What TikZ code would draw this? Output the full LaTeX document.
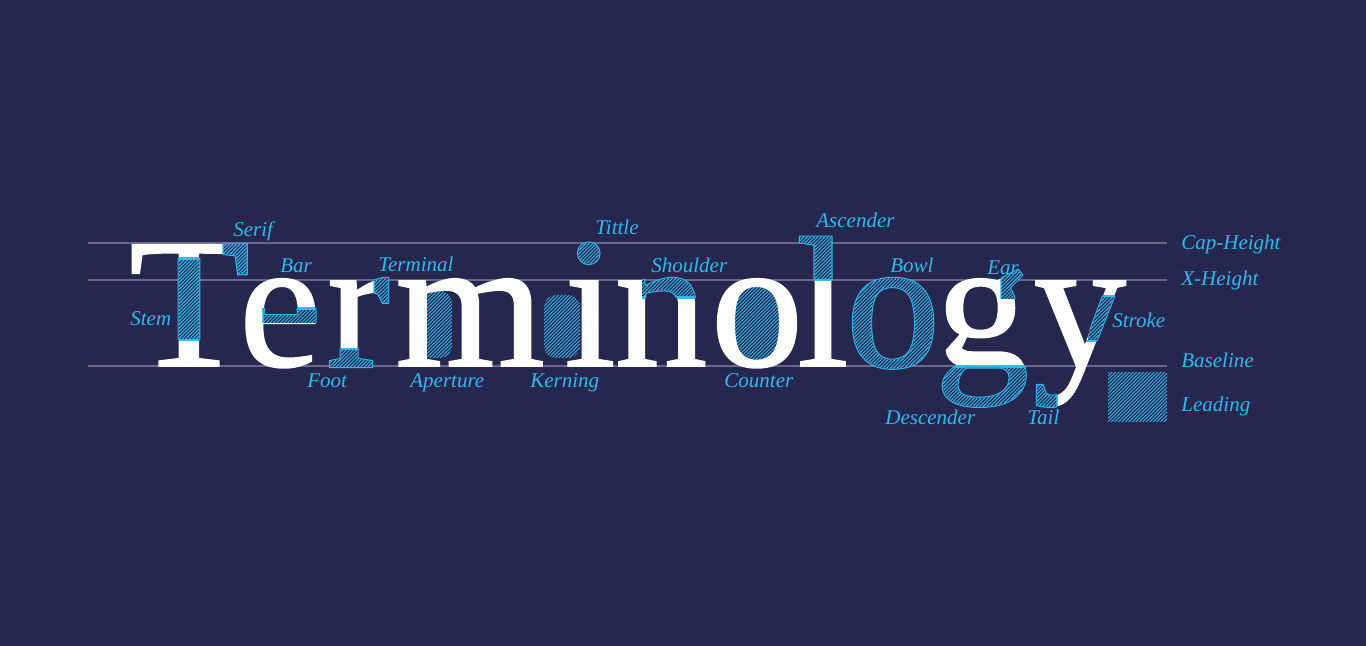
\documentclass[tikz,border=0pt]{standalone}
\usepackage{fontspec}
\setmainfont{Liberation Serif}
\newfontfamily\bigserif{Liberation Serif}[FakeBold=1.0]
\newfontfamily\bigserifB{Liberation Serif}[FakeBold=2.2]
\definecolor{bgc}{RGB}{37,39,79}
\definecolor{cy}{RGB}{48,185,236}
\definecolor{guide}{RGB}{104,104,138}
\tikzset{
  lbl/.style={anchor=base west, inner sep=0pt, text=cy, font=\fontsize{10.5}{12}\selectfont\itshape},
  letter/.style={anchor=base, inner sep=0pt, text=white, font=\fontsize{92.5}{92.5}\selectfont\bigserif},
  letterB/.style={anchor=base, inner sep=0pt, font=\fontsize{92.5}{92.5}\selectfont\bigserifB},
  guideline/.style={draw=guide, line width=1.2pt},
}
% diagonal stripes as a clip path over a box xmin ymin xmax ymax (pixel units, y down)
\newcommand\hatchclip[4]{%
  \pgfmathsetmacro\hcA{#1+#2}%
  \pgfmathsetmacro\hcB{#3+#4}%
  \pgfmathsetmacro\hcC{\hcA+3.5}%
  \clip foreach \hk in {\hcA,\hcC,...,\hcB} {({\hk-#2},#2) -- ({\hk+1.4-#2},#2) -- ({\hk+1.4-#4},#4) -- ({\hk-#4},#4) -- cycle};}
% hatched part of a glyph: name, x, glyph, region, stripe box
\newcommand\hpart[5]{%
  \begin{scope}
  \clip #4;
  \node[letterB, text=cy] (#1B) at (#2,366) {#3};
  \node[letter, text=bgc] (#1N) at (#2,366) {#3};
  \hatchclip#5
  \node[letter, text=cy] (#1H) at (#2,366) {#3};
  \end{scope}}
% cut line where a hatched part meets the white glyph
\newcommand\cutline[4]{%
  \begin{scope}
  \clip #4;
  \node[letter, text=cy] (#1) at (#2,366) {#3};
  \end{scope}}
% hatched empty area (under the letters)
\newcommand\harea[2]{%
  \begin{scope}
  \clip #1;
  \hatchclip#2
  \fill[cy] #1;
  \end{scope}}
\begin{document}
\begin{tikzpicture}[x=0.5pt,y=-0.5pt]
\fill[bgc] (0,0) rectangle (1366,646);
\useasboundingbox (0,0) rectangle (1366,646);
% guide lines
\draw[guideline] (88,243) -- (1167,243);
\draw[guideline] (88,280) -- (1167,280);
\draw[guideline] (88,366) -- (1167,366);
% hatched empty areas: aperture, kerning, counter
\harea{[rounded corners=6pt] (419,358) -- (419,291) -- (452,291) -- (452,358) -- cycle}{{419}{291}{452}{358}}
\harea{[rounded corners=6pt] (544,358) -- (544,295) -- (580,295) -- (580,358) -- cycle}{{544}{295}{580}{358}}
\harea{(757,323) ellipse [x radius=13pt, y radius=19.5pt]}{{730}{283}{784}{363}}
% letters
\node[letter] (lT) at (189,366) {\scalebox{1.06}[1]{T}};
\node[letter] (le) at (280,366) {e};
\node[letter] (lr) at (358,366) {r};
\node[letter] (lm) at (470,366) {\scalebox{1.04}[1]{m}};
\node[letter] (li) at (590,366) {i};
\node[letter] (ln) at (661,366) {n};
\node[letter] (lo) at (757,366) {o};
\node[letter] (ll) at (823,366) {l};
\node[letter] (lg) at (982,366) {g};
\node[letter] (ly) at (1080,366) {y};
% hatched parts of the letters
\hpart{stem}{189}{\scalebox{1.06}[1]{T}}{(168,258.5) rectangle (212,340)}{{168}{258}{212}{340}}
\cutline{stemA}{189}{\scalebox{1.06}[1]{T}}{(168,257.9) rectangle (212,259.1)}
\cutline{stemB}{189}{\scalebox{1.06}[1]{T}}{(168,339.4) rectangle (212,340.6)}
\hpart{serif}{189}{\scalebox{1.06}[1]{T}}{(223,236) rectangle (258,285)}{{223}{236}{258}{285}}
\cutline{serifA}{189}{\scalebox{1.06}[1]{T}}{(222.4,236) rectangle (223.6,285)}
\hpart{bar}{280}{e}{(263,308.5) rectangle (322,323)}{{263}{308}{322}{323}}
\cutline{barA}{280}{e}{(262.4,308.5) rectangle (263.6,323)}
\cutline{barB}{280}{e}{(292,307.9) rectangle (322,309.1)}
\hpart{foot}{358}{r}{(315,349) rectangle (380,374)}{{315}{349}{380}{374}}
\cutline{footA}{358}{r}{(315,348.4) rectangle (380,349.6)}
\hpart{term}{358}{r}{(374,265) rectangle (402,308)}{{374}{265}{402}{308}}
\cutline{termA}{358}{r}{(373.4,265) rectangle (374.6,308)}
\hpart{tittle}{590}{i}{(565,225) rectangle (615,266)}{{565}{225}{615}{266}}
\hpart{shoulder}{661}{n}{(642,266) rectangle (712,297.5)}{{642}{266}{712}{298}}
\cutline{shoulderA}{661}{n}{(642,296.9) rectangle (712,298.1)}
\hpart{asc}{823}{l}{(785,220) rectangle (852,280)}{{785}{220}{852}{280}}
\cutline{ascA}{823}{l}{(785,279.4) rectangle (852,280.6)}
\hpart{bowl}{893}{o}{(838,262) rectangle (948,378)}{{838}{262}{948}{378}}
\hpart{ear}{982}{g}{(1001,255) rectangle (1036,299)}{{1001}{255}{1036}{299}}
\cutline{earA}{982}{g}{(1000.4,255) rectangle (1001.6,299)}
\hpart{desc}{982}{g}{(925,366.6) rectangle (1036,418)}{{925}{366}{1036}{418}}
\cutline{descA}{982}{g}{(925,366) rectangle (1036,367.2)}
\hpart{strokey}{1080}{y}{(1094,296) -- (1142,296) -- (1118,341) -- (1088,341) -- cycle}{{1088}{296}{1142}{341}}
\cutline{strokeA}{1080}{y}{(1094,295.4) rectangle (1142,296.6)}
\cutline{strokeB}{1080}{y}{(1086,340.4) rectangle (1118,341.6)}
\hpart{tail}{1080}{y}{(1026,380) rectangle (1057,416)}{{1026}{380}{1057}{416}}
\cutline{tailA}{1080}{y}{(1056.4,380) rectangle (1057.6,416)}
% leading
\harea{(1108,372) rectangle (1167,422)}{{1108}{372}{1167}{422}}
% labels
\node[lbl] (tSerif) at (233,237) {Serif};
\node[lbl] (tBar) at (280,273) {Bar};
\node[lbl] (tTerminal) at (378,272) {Terminal};
\node[lbl] (tStem) at (130,326) {Stem};
\node[lbl] (tFoot) at (307,388) {Foot};
\node[lbl] (tAperture) at (410,388) {Aperture};
\node[lbl] (tKerning) at (530,388) {Kerning};
\node[lbl] (tTittle) at (595,235) {Tittle};
\node[lbl] (tShoulder) at (651,273) {Shoulder};
\node[lbl] (tAscender) at (816,228) {Ascender};
\node[lbl] (tCounter) at (724,388) {Counter};
\node[lbl] (tBowl) at (890,273) {Bowl};
\node[lbl] (tEar) at (987,275) {Ear};
\node[lbl] (tStroke) at (1112,328) {Stroke};
\node[lbl] (tDescender) at (885,425) {Descender};
\node[lbl] (tTail) at (1027,425) {Tail};
\node[lbl] (tCap) at (1181,250) {Cap-Height};
\node[lbl] (tX) at (1181,286) {X-Height};
\node[lbl] (tBase) at (1181,368) {Baseline};
\node[lbl] (tLead) at (1181,412) {Leading};
\end{tikzpicture}
\end{document}
